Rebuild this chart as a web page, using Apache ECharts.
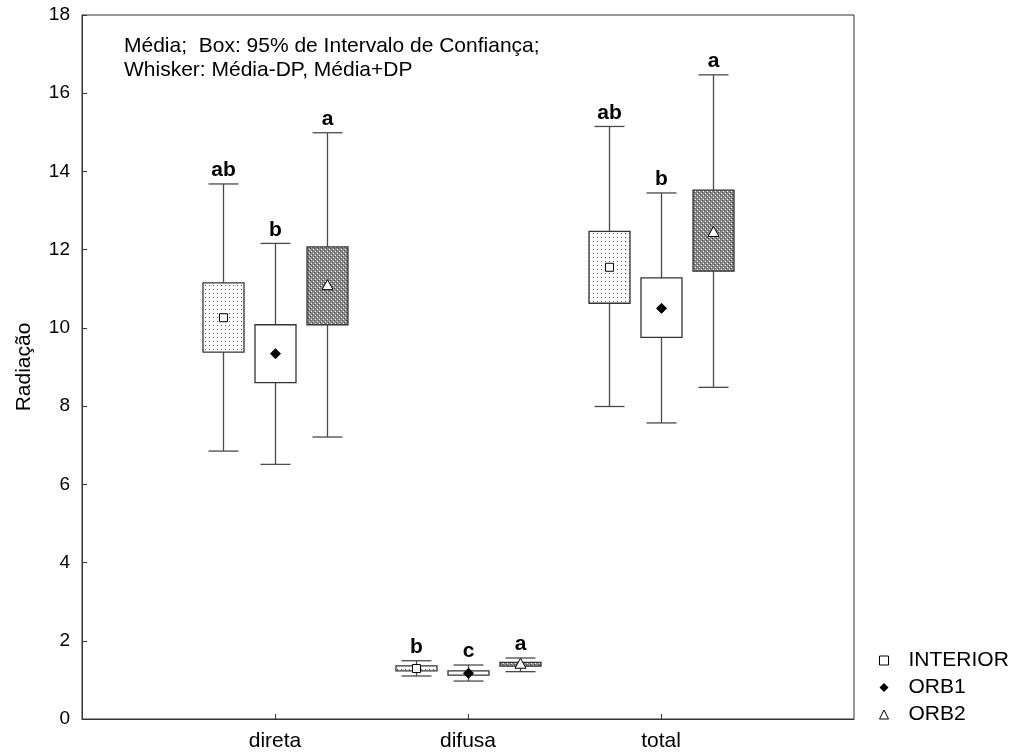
<!DOCTYPE html>
<html>
<head>
<meta charset="utf-8">
<script src="https://cdn.jsdelivr.net/npm/echarts@6/dist/echarts.min.js"></script>
<style>
html,body{margin:0;padding:0;background:#fff;}
#chart{width:1013px;height:754px;}
</style>
</head>
<body>
<div id="chart"></div>
<script>
// Data: each tuple = [Média-DP, IC95 inferior, Média, IC95 superior, Média+DP]
var categories = ['direta', 'difusa', 'total'];
var seriesNames = ['INTERIOR', 'ORB1', 'ORB2'];
var interior = [[6.85, 9.38, 10.26, 11.15, 13.68], [1.10, 1.23, 1.29, 1.36, 1.49], [7.99, 10.63, 11.55, 12.47, 15.15]];
var orb1 = [[6.51, 8.60, 9.34, 10.08, 12.16], [0.97, 1.12, 1.17, 1.23, 1.38], [7.57, 9.76, 10.50, 11.28, 13.45]];
var orb2 = [[7.21, 10.08, 11.08, 12.07, 14.99], [1.21, 1.35, 1.40, 1.45, 1.56], [8.48, 11.45, 12.44, 13.52, 16.47]];
var lettersInterior = ['ab', 'b', 'ab'];
var lettersOrb1 = ['b', 'c', 'b'];
var lettersOrb2 = ['a', 'a', 'a'];
var yTicks = [0, 2, 4, 6, 8, 10, 12, 14, 16, 18];

var FONT = '"Liberation Sans", Arial, sans-serif';

function makePattern(kind) {
  var c = document.createElement('canvas');
  c.width = 4; c.height = 4;
  var g = c.getContext('2d');
  if (kind === 'dots') {
    g.fillStyle = '#fff'; g.fillRect(0, 0, 4, 4);
    g.fillStyle = '#555'; g.fillRect(1, 1, 1, 1);
  } else {
    g.fillStyle = '#8a8a8a'; g.fillRect(0, 0, 4, 4);
    g.fillStyle = '#f4f4f4';
    g.fillRect(1, 1, 1, 1); g.fillRect(3, 3, 1, 1);
    g.fillStyle = '#4a4a4a';
    g.fillRect(0, 2, 1, 1); g.fillRect(2, 0, 1, 1);
  }
  return { image: c, repeat: 'repeat' };
}

var styles = [
  { fill: makePattern('dots'), offset: -0.267, marker: 'square' },
  { fill: '#ffffff', offset: 0, marker: 'diamond' },
  { fill: makePattern('cross'), offset: 0.267, marker: 'triangle' }
];

function buildData(arr, letters) {
  return arr.map(function (t, i) {
    return [i + 1, t[0], t[1], t[2], t[3], t[4], letters[i]];
  });
}

function makeRender(st) {
  return function (params, api) {
    var x = api.value(0) + st.offset;
    var pLo = api.coord([x, api.value(1)]);
    var pBl = api.coord([x, api.value(2)]);
    var pM = api.coord([x, api.value(3)]);
    var pBh = api.coord([x, api.value(4)]);
    var pHi = api.coord([x, api.value(5)]);
    var cx = Math.round(pM[0]) + 0.5;
    var bw = 41, cw = 30;
    var lineStyle = { stroke: '#4a4a4a', lineWidth: 1.3 };
    var children = [
      { type: 'line', shape: { x1: cx, y1: pLo[1], x2: cx, y2: pHi[1] }, style: lineStyle },
      { type: 'line', shape: { x1: cx - cw / 2, y1: pLo[1], x2: cx + cw / 2, y2: pLo[1] }, style: lineStyle },
      { type: 'line', shape: { x1: cx - cw / 2, y1: pHi[1], x2: cx + cw / 2, y2: pHi[1] }, style: lineStyle },
      { type: 'rect', shape: { x: cx - bw / 2, y: pBh[1], width: bw, height: pBl[1] - pBh[1] },
        style: { fill: st.fill, stroke: '#333', lineWidth: 1.3 } }
    ];
    var my = pM[1];
    if (st.marker === 'square') {
      children.push({ type: 'rect', shape: { x: cx - 4, y: my - 4, width: 8, height: 8 },
        style: { fill: '#fff', stroke: '#000', lineWidth: 1 } });
    } else if (st.marker === 'diamond') {
      children.push({ type: 'polygon', shape: { points: [[cx, my - 5], [cx + 5, my], [cx, my + 5], [cx - 5, my]] },
        style: { fill: '#000', stroke: '#000', lineWidth: 1 } });
    } else {
      children.push({ type: 'polygon', shape: { points: [[cx, my - 6], [cx + 5.5, my + 4], [cx - 5.5, my + 4]] },
        style: { fill: '#fff', stroke: '#000', lineWidth: 1 } });
    }
    children.push({ type: 'text', x: cx, y: pHi[1] - 3,
      style: { text: api.value(6), fill: '#000', font: 'bold 21px ' + FONT,
        align: 'center', verticalAlign: 'bottom' } });
    return { type: 'group', children: children };
  };
}

var chart = echarts.init(document.getElementById('chart'), null, { renderer: 'canvas' });
var allData = [buildData(interior, lettersInterior), buildData(orb1, lettersOrb1), buildData(orb2, lettersOrb2)];

var option = {
  backgroundColor: '#fff',
  animation: false,
  textStyle: { fontFamily: FONT },
  grid: { left: 82, right: 159, top: 15, bottom: 35, show: true, borderColor: '#333', borderWidth: 1 },
  legend: {
    orient: 'vertical', left: 874, top: 645,
    itemWidth: 9, itemHeight: 9, itemGap: 6,
    selectedMode: false,
    textStyle: { fontSize: 21, color: '#000', lineHeight: 21, padding: [0, 0, 0, 15], fontFamily: FONT },
    data: [
      { name: 'INTERIOR', icon: 'rect', itemStyle: { color: '#fff', borderColor: '#000', borderWidth: 1 } },
      { name: 'ORB1', icon: 'diamond', itemStyle: { color: '#000', borderColor: '#000', borderWidth: 0 } },
      { name: 'ORB2', icon: 'triangle', itemStyle: { color: '#fff', borderColor: '#000', borderWidth: 1 } }
    ]
  },
  graphic: [
    { type: 'text', left: 124, top: 36, style: { text: 'Média;  Box: 95% de Intervalo de Confiança;', fill: '#000',
      font: '21px ' + FONT } },
    { type: 'text', left: 124, top: 60, style: { text: 'Whisker: Média-DP, Média+DP', fill: '#000',
      font: '21px ' + FONT } }
  ],
  xAxis: {
    type: 'value', min: 0, max: 4,
    splitLine: { show: false },
    axisLine: { show: true, lineStyle: { color: '#333', width: 1 } },
    axisTick: { show: true, inside: true, length: 5, customValues: [1, 2, 3], lineStyle: { color: '#333' } },
    axisLabel: { customValues: [1, 2, 3], fontSize: 21, color: '#000', margin: 12,
      formatter: function (v) { return categories[Math.round(v) - 1] || ''; } }
  },
  yAxis: {
    type: 'value', min: yTicks[0], max: yTicks[yTicks.length - 1], interval: 2,
    name: 'Radiação', nameLocation: 'middle', nameGap: 47, nameRotate: 90,
    nameTextStyle: { fontSize: 21, color: '#000' },
    splitLine: { show: false },
    axisLine: { show: true, lineStyle: { color: '#333', width: 1 } },
    axisTick: { show: true, inside: true, length: 5, lineStyle: { color: '#333' } },
    axisLabel: { fontSize: 19, color: '#000', margin: 12 }
  },
  series: seriesNames.map(function (name, k) {
    return {
      name: name, type: 'custom', renderItem: makeRender(styles[k]),
      data: allData[k], encode: { x: 0, y: [1, 5] },
      itemStyle: { color: k === 1 ? '#000' : '#fff' }
    };
  })
};
chart.setOption(option);
</script>
</body>
</html>
